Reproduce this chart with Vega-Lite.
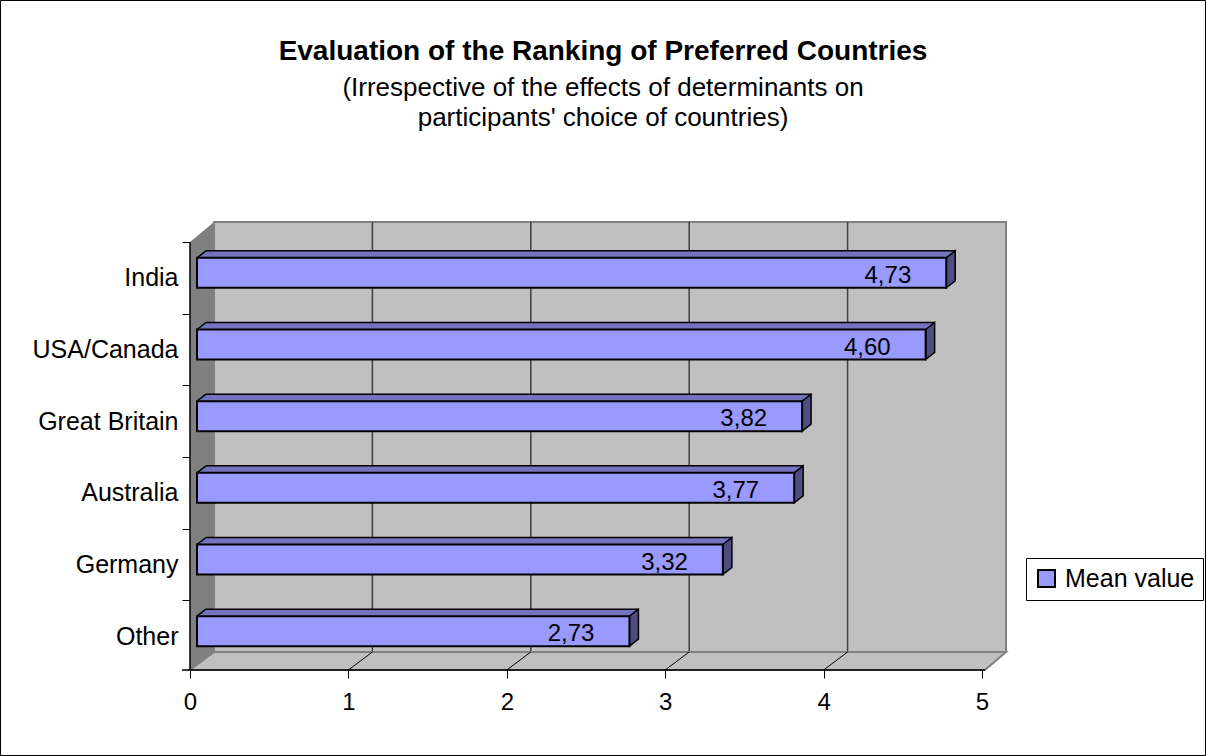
{
  "$schema": "https://vega.github.io/schema/vega-lite/v6.json",
  "width": 792,
  "height": 430,
  "autosize": {"type": "none"},
  "padding": {"left": 214, "top": 222, "right": 200, "bottom": 104},
  "background": "white",
  "title": {
    "text": "Evaluation of the Ranking of Preferred Countries",
    "subtitle": ["(Irrespective of the effects of determinants on", "participants' choice of countries)"],
    "anchor": "middle",
    "frame": "group",
    "dx": -7,
    "offset": -133,
    "fontSize": 28,
    "font": "Liberation Sans",
    "fontWeight": "bold",
    "color": "black",
    "subtitleFont": "Liberation Sans",
    "subtitleFontSize": 26,
    "subtitleColor": "black",
    "subtitleLineHeight": 30,
    "subtitlePadding": 9
  },
  "datasets": {
    "bars": [
      {"country": "India", "value": 4.73, "label": "4,73", "series": "Mean value"},
      {"country": "USA/Canada", "value": 4.60, "label": "4,60", "series": "Mean value"},
      {"country": "Great Britain", "value": 3.82, "label": "3,82", "series": "Mean value"},
      {"country": "Australia", "value": 3.77, "label": "3,77", "series": "Mean value"},
      {"country": "Germany", "value": 3.32, "label": "3,32", "series": "Mean value"},
      {"country": "Other", "value": 2.73, "label": "2,73", "series": "Mean value"}
    ],
    "ticks": [{"t": 1}, {"t": 2}, {"t": 3}, {"t": 4}],
    "one": [{"k": "frame"}]
  },
  "layer": [
    {
      "data": {"name": "one"},
      "mark": {"type": "point", "shape": "M0,0 L0,-430 L-24,-410 L-24,18 Z", "size": 4, "filled": true, "fill": "#808080", "strokeWidth": 0, "opacity": 1, "yOffset": 35.83},
      "encoding": {
        "x": {"datum": 0, "type": "quantitative", "title": null, "scale": {"domain": [0, 5], "nice": false, "zero": true}},
        "y": {"datum": "Other", "type": "nominal", "title": null, "scale": {"domain": ["India", "USA/Canada", "Great Britain", "Australia", "Germany", "Other"], "paddingInner": 0, "paddingOuter": 0}}
      }
    },
    {
      "data": {"name": "ticks"},
      "mark": {"type": "rule", "color": "#404040", "strokeWidth": 1.5},
      "encoding": {
        "x": {"field": "t", "type": "quantitative", "title": null, "scale": {"domain": [0, 5], "nice": false, "zero": true}}
      }
    },
    {
      "data": {"name": "one"},
      "mark": {"type": "point", "shape": "M0,0 L792,0 L771,18 L-24,18 Z", "size": 4, "filled": true, "fill": "#C0C0C0", "stroke": "#808080", "strokeWidth": 2, "opacity": 1, "yOffset": 35.83},
      "encoding": {
        "x": {"datum": 0, "type": "quantitative", "title": null, "scale": {"domain": [0, 5], "nice": false, "zero": true}},
        "y": {"datum": "Other", "type": "nominal", "title": null, "scale": {"domain": ["India", "USA/Canada", "Great Britain", "Australia", "Germany", "Other"], "paddingInner": 0, "paddingOuter": 0}}
      }
    },
    {
      "data": {"name": "ticks"},
      "mark": {"type": "point", "shape": "M0,0 L-24,18", "size": 4, "filled": false, "fill": "transparent", "stroke": "black", "strokeWidth": 1, "opacity": 1, "yOffset": 35.83},
      "encoding": {
        "x": {"field": "t", "type": "quantitative", "title": null, "scale": {"domain": [0, 5], "nice": false, "zero": true}},
        "y": {"datum": "Other", "type": "nominal", "title": null, "scale": {"domain": ["India", "USA/Canada", "Great Britain", "Australia", "Germany", "Other"], "paddingInner": 0, "paddingOuter": 0}}
      }
    },
    {
      "data": {"name": "one"},
      "mark": {"type": "point", "shape": "M-24,-410 L-24,18 L771,18 M-32,18 L-24,18", "size": 4, "filled": false, "fill": "transparent", "stroke": "black", "strokeWidth": 1.5, "opacity": 1, "yOffset": 35.83},
      "encoding": {
        "x": {"datum": 0, "type": "quantitative", "title": null, "scale": {"domain": [0, 5], "nice": false, "zero": true}},
        "y": {"datum": "Other", "type": "nominal", "title": null, "scale": {"domain": ["India", "USA/Canada", "Great Britain", "Australia", "Germany", "Other"], "paddingInner": 0, "paddingOuter": 0}}
      }
    },
    {
      "data": {"name": "bars"},
      "mark": {"type": "bar", "size": 7, "yOffset": -3.5, "xOffset": -17, "x2Offset": -8, "color": "#7373BF", "strokeWidth": 0},
      "encoding": {
        "x": {"field": "value", "type": "quantitative", "title": null, "scale": {"domain": [0, 5], "nice": false, "zero": true}},
        "x2": {"datum": 0},
        "y": {"field": "country", "type": "nominal", "title": null, "scale": {"domain": ["India", "USA/Canada", "Great Britain", "Australia", "Germany", "Other"], "paddingInner": 0, "paddingOuter": 0}}
      }
    },
    {
      "data": {"name": "bars"},
      "mark": {"type": "point", "shape": "M0,0 L9,-7 L9.5,-7 L9.5,0 Z", "size": 4, "filled": true, "fill": "#7373BF", "strokeWidth": 0, "opacity": 1, "xOffset": -17},
      "encoding": {
        "x": {"datum": 0, "type": "quantitative", "title": null, "scale": {"domain": [0, 5], "nice": false, "zero": true}},
        "y": {"field": "country", "type": "nominal", "title": null, "scale": {"domain": ["India", "USA/Canada", "Great Britain", "Australia", "Germany", "Other"], "paddingInner": 0, "paddingOuter": 0}}
      }
    },
    {
      "data": {"name": "bars"},
      "mark": {"type": "point", "shape": "M-0.5,0 L-0.5,-7 L9,-7 Z", "size": 4, "filled": true, "fill": "#7373BF", "strokeWidth": 0, "opacity": 1, "xOffset": -17},
      "encoding": {
        "x": {"field": "value", "type": "quantitative", "title": null, "scale": {"domain": [0, 5], "nice": false, "zero": true}},
        "y": {"field": "country", "type": "nominal", "title": null, "scale": {"domain": ["India", "USA/Canada", "Great Britain", "Australia", "Germany", "Other"], "paddingInner": 0, "paddingOuter": 0}}
      }
    },
    {
      "data": {"name": "bars"},
      "mark": {"type": "rule", "color": "black", "strokeWidth": 1.5, "xOffset": -8, "x2Offset": -8, "yOffset": -7},
      "encoding": {
        "x": {"field": "value", "type": "quantitative", "title": null, "scale": {"domain": [0, 5], "nice": false, "zero": true}},
        "x2": {"datum": 0},
        "y": {"field": "country", "type": "nominal", "title": null, "scale": {"domain": ["India", "USA/Canada", "Great Britain", "Australia", "Germany", "Other"], "paddingInner": 0, "paddingOuter": 0}}
      }
    },
    {
      "data": {"name": "bars"},
      "mark": {"type": "point", "shape": "M0,0 L9,-7", "size": 4, "filled": false, "fill": "transparent", "stroke": "black", "strokeWidth": 1.5, "opacity": 1, "xOffset": -17},
      "encoding": {
        "x": {"datum": 0, "type": "quantitative", "title": null, "scale": {"domain": [0, 5], "nice": false, "zero": true}},
        "y": {"field": "country", "type": "nominal", "title": null, "scale": {"domain": ["India", "USA/Canada", "Great Britain", "Australia", "Germany", "Other"], "paddingInner": 0, "paddingOuter": 0}}
      }
    },
    {
      "data": {"name": "bars"},
      "mark": {"type": "point", "shape": "M0,0 L9,-7 L9,23 L0,30 Z", "size": 4, "filled": true, "fill": "#4D4D80", "stroke": "black", "strokeWidth": 1.5, "opacity": 1, "xOffset": -17},
      "encoding": {
        "x": {"field": "value", "type": "quantitative", "title": null, "scale": {"domain": [0, 5], "nice": false, "zero": true}},
        "y": {"field": "country", "type": "nominal", "title": null, "scale": {"domain": ["India", "USA/Canada", "Great Britain", "Australia", "Germany", "Other"], "paddingInner": 0, "paddingOuter": 0}}
      }
    },
    {
      "data": {"name": "bars"},
      "mark": {"type": "bar", "size": 30, "yOffset": 15, "xOffset": -17, "x2Offset": -17, "stroke": "black", "strokeWidth": 2, "opacity": 1},
      "encoding": {
        "x": {"field": "value", "type": "quantitative", "title": null, "scale": {"domain": [0, 5], "nice": false, "zero": true},
          "axis": {"title": null, "offset": 18, "tickOffset": -24, "domain": false, "grid": false, "values": [0, 1, 2, 3, 4, 5], "tickSize": 8, "tickColor": "black", "tickWidth": 1, "labelFontSize": 24, "labelColor": "black", "labelFont": "Liberation Sans", "labelPadding": 12, "format": "d", "labelFlush": false, "labelOverlap": false}},
        "x2": {"datum": 0},
        "y": {"field": "country", "type": "nominal", "title": null, "scale": {"domain": ["India", "USA/Canada", "Great Britain", "Australia", "Germany", "Other"], "paddingInner": 0, "paddingOuter": 0},
          "axis": {"title": null, "offset": 24, "bandPosition": 0, "tickOffset": 20, "labelOffset": 0, "domain": false, "ticks": true, "tickSize": 8, "tickColor": "black", "tickWidth": 1, "labelFontSize": 25, "labelColor": "black", "labelFont": "Liberation Sans", "labelPadding": 4, "grid": false}},
        "color": {"field": "series", "type": "nominal", "scale": {"domain": ["Mean value"], "range": ["#9999FF"]},
          "legend": {"title": null, "orient": "none", "legendX": 812, "legendY": 336, "strokeColor": "black", "fillColor": "white", "padding": 8, "symbolType": "square", "symbolSize": 289, "symbolStrokeColor": "black", "symbolStrokeWidth": 2, "symbolOpacity": 1, "labelFontSize": 25, "labelColor": "black", "labelFont": "Liberation Sans", "labelOffset": 6}}
      }
    },
    {
      "data": {"name": "bars"},
      "mark": {"type": "text", "align": "right", "baseline": "alphabetic", "dx": -52, "dy": 25, "fontSize": 24, "font": "Liberation Sans", "color": "black"},
      "encoding": {
        "x": {"field": "value", "type": "quantitative", "title": null, "scale": {"domain": [0, 5], "nice": false, "zero": true}},
        "y": {"field": "country", "type": "nominal", "title": null, "scale": {"domain": ["India", "USA/Canada", "Great Britain", "Australia", "Germany", "Other"], "paddingInner": 0, "paddingOuter": 0}},
        "text": {"field": "label", "type": "nominal"}
      }
    },
    {
      "data": {"name": "one"},
      "mark": {"type": "point", "shape": "M-213.5,-651.5 L991.5,-651.5 L991.5,103.5 L-213.5,103.5 Z", "size": 4, "filled": false, "fill": "transparent", "stroke": "black", "strokeWidth": 1, "opacity": 1, "yOffset": 35.83},
      "encoding": {
        "x": {"datum": 0, "type": "quantitative", "title": null, "scale": {"domain": [0, 5], "nice": false, "zero": true}},
        "y": {"datum": "Other", "type": "nominal", "title": null, "scale": {"domain": ["India", "USA/Canada", "Great Britain", "Australia", "Germany", "Other"], "paddingInner": 0, "paddingOuter": 0}}
      }
    }
  ],
  "config": {
    "font": "Liberation Sans",
    "view": {"fill": "#C0C0C0", "stroke": "#808080", "strokeWidth": 2}
  }
}
